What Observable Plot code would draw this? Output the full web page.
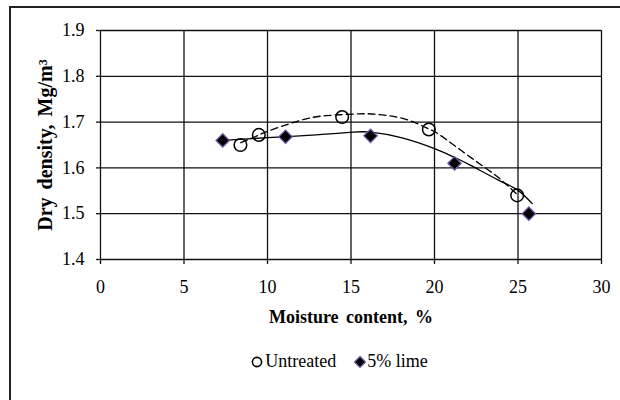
<!DOCTYPE html>
<html>
<head>
<meta charset="utf-8">
<script src="https://cdn.jsdelivr.net/npm/d3@7"></script>
<script src="https://cdn.jsdelivr.net/npm/@observablehq/plot@0.6"></script>
<style>
  html, body { margin: 0; padding: 0; background: #fff; }
  body { width: 620px; height: 400px; overflow: hidden; position: relative; font-family: "Liberation Serif", "Times New Roman", serif; }
  #frame { position: absolute; left: 9px; top: 6px; width: 800px; height: 600px; border-left: 2px solid #222; border-top: 2px solid #222; }
  #chart { position: absolute; left: 0; top: 0; }
  #legend { position: absolute; left: 0; top: 351px; width: 678px; display: flex; justify-content: center; align-items: center; font-size: 18px; color: #000; }
  #legend .item { display: flex; align-items: center; }
  #legend svg { display: block; }
</style>
</head>
<body>
<div id="frame"></div>
<div id="chart"></div>
<div id="legend"></div>
<script>
// Data
const seriesNames = ["Untreated", "5% lime"];
const untreatedMoisture = [8.38, 9.48, 14.47, 19.66, 24.95];
const untreatedDensity  = [1.650, 1.672, 1.711, 1.684, 1.540];
const limeMoisture = [7.32, 11.08, 16.17, 21.2, 25.65];
const limeDensity  = [1.660, 1.668, 1.670, 1.610, 1.500];
// Trendlines as drawn in the reference
const untreatedTrendMoisture = [8.4, 9.5, 10.0, 11.9, 13.5, 15.5, 16.5, 18.2, 19.66, 20.36, 22.16, 23.75, 25.0];
const untreatedTrendDensity  = [1.655, 1.672, 1.680, 1.703, 1.714, 1.718, 1.717, 1.707, 1.685, 1.671, 1.623, 1.581, 1.540];
const limeTrendMoisture = [7.32, 10.0, 12.9, 15.1, 16.2, 18.0, 20.0, 21.2, 22.2, 23.8, 25.0, 25.85];
const limeTrendDensity  = [1.660, 1.666, 1.672, 1.678, 1.678, 1.666, 1.642, 1.623, 1.605, 1.574, 1.551, 1.522];
const xTicks = [0, 5, 10, 15, 20, 25, 30];
const yTicks = [1.4, 1.5, 1.6, 1.7, 1.8, 1.9];
const xTitle = "Moisture content, %";
const yTitle = "Dry density, Mg/m\u00B3";

const pair = (xs, ys) => xs.map((m, i) => ({m, d: ys[i]}));
const untreated = pair(untreatedMoisture, untreatedDensity);
const lime = pair(limeMoisture, limeDensity);
const untreatedTrend = pair(untreatedTrendMoisture, untreatedTrendDensity);
const limeTrend = pair(limeTrendMoisture, limeTrendDensity);

const font = "'Liberation Serif', 'Times New Roman', serif";

const chart = Plot.plot({
  width: 620,
  height: 340,
  marginLeft: 100,
  marginRight: 19,
  marginTop: 30,
  marginBottom: 81,
  style: {fontFamily: font, fontSize: "18px", color: "#000", background: "transparent", overflow: "visible"},
  x: {domain: [0, 30]},
  y: {domain: [1.4, 1.9]},
  marks: [
    Plot.gridX(xTicks, {stroke: "#111", strokeOpacity: 1, strokeWidth: 1.3}),
    Plot.gridY(yTicks, {stroke: "#111", strokeOpacity: 1, strokeWidth: 1.3}),
    Plot.axisX(xTicks, {label: null, tickSize: 5, tickPadding: 16, tickFormat: d => String(d), stroke: "#111", strokeWidth: 1.3}),
    Plot.axisY(yTicks, {label: null, tickSize: 4, tickPadding: 12, tickFormat: d3.format(".1f"), stroke: "#111", strokeWidth: 1.3}),
    Plot.line(untreatedTrend, {x: "m", y: "d", curve: "natural", stroke: "#000", strokeWidth: 1.3, strokeDasharray: "7,4"}),
    Plot.line(limeTrend, {x: "m", y: "d", curve: "natural", stroke: "#000", strokeWidth: 1.3}),
    Plot.dot(untreated, {x: "m", y: "d", r: 6.3, stroke: "#000", strokeWidth: 1.5, fill: "none"}),
    Plot.dot(lime, {x: "m", y: "d", symbol: "diamond2", r: 6, fill: "#000", stroke: "#6f52a3", strokeWidth: 1.3}),
    Plot.text([xTitle], {frameAnchor: "bottom", textAnchor: "middle", lineAnchor: "middle", dy: 58, fontWeight: "bold", fontSize: 18}),
    Plot.text([yTitle], {frameAnchor: "left", textAnchor: "middle", lineAnchor: "middle", dx: -55, rotate: -90, fontWeight: "bold", fontSize: 20})
  ]
});
// slightly wider word spacing, as in the reference
chart.querySelectorAll("text").forEach(t => {
  if (t.textContent === xTitle) t.style.wordSpacing = "3px";
  if (t.textContent === yTitle) t.style.wordSpacing = "3px";
});
document.getElementById("chart").appendChild(chart);

// Legend below the chart
const legend = document.getElementById("legend");
const symbols = [
  `<svg width="14" height="14"><circle cx="7" cy="7" r="4.6" fill="none" stroke="#000" stroke-width="1.6"/></svg>`,
  `<svg width="14" height="14"><path d="M7,1.5 L12.5,7 L7,12.5 L1.5,7 Z" fill="#000" stroke="#6f52a3" stroke-width="1.2"/></svg>`
];
seriesNames.forEach((name, i) => {
  const item = document.createElement("div");
  item.className = "item";
  item.style.marginRight = i === 0 ? "17px" : "0";
  item.innerHTML = symbols[i] + `<span style="margin-left:${i === 0 ? 1 : 0}px">${name}</span>`;
  legend.appendChild(item);
});
</script>
</body>
</html>
